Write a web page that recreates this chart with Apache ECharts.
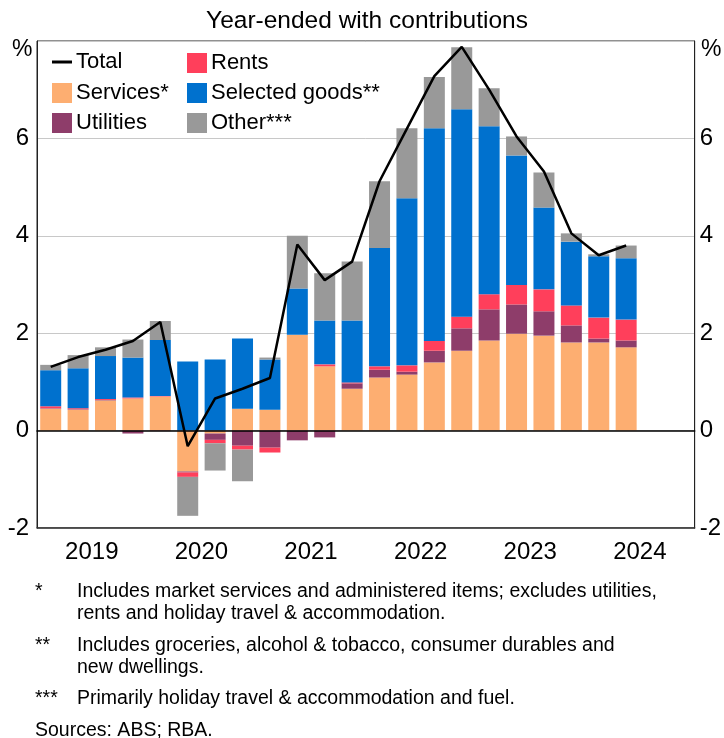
<!DOCTYPE html>
<html>
<head>
<meta charset="utf-8">
<script src="https://cdn.jsdelivr.net/npm/echarts@6/dist/echarts.min.js"></script>
<style>
  html, body { margin: 0; padding: 0; background: #fff; }
  #chart { width: 724px; height: 738px; }
</style>
</head>
<body>
<div id="chart"></div>
<script>
// quarters 2019 Q1 .. 2024 Q4 (last two empty)
const quarters = []
for (let y = 2019; y <= 2024; y++) {
  for (let q = 1; q <= 4; q++) quarters.push(y + ' Q' + q)
}
const years = ['2019', '2020', '2021', '2022', '2023', '2024']

// contributions, ppt
const services = [0.45, 0.43, 0.62, 0.66, 0.70, -0.84, -0.06, 0.45, 0.43, 1.97, 1.32, 0.86, 1.09, 1.15, 1.40, 1.64, 1.85, 1.99, 1.95, 1.81, 1.81, 1.71]
const utilities = [0.01, 0.01, 0.01, -0.06, -0.01, -0.02, -0.13, -0.31, -0.35, -0.20, -0.14, 0.11, 0.16, 0.06, 0.24, 0.46, 0.64, 0.60, 0.50, 0.35, 0.08, 0.14]
const rents = [0.04, 0.02, 0.02, 0.02, 0.01, -0.09, -0.07, -0.08, -0.10, 0.00, 0.04, 0.02, 0.07, 0.13, 0.20, 0.24, 0.31, 0.40, 0.45, 0.41, 0.43, 0.43]
const selectedGoods = [0.74, 0.82, 0.88, 0.82, 1.15, 1.42, 1.46, 1.44, 1.03, 0.95, 0.90, 1.27, 2.43, 3.43, 4.37, 4.26, 3.45, 2.66, 1.68, 1.31, 1.26, 1.26]
const other = [0.11, 0.27, 0.18, 0.37, 0.39, -0.80, -0.56, -0.65, 0.04, 1.08, 0.97, 1.21, 1.37, 1.44, 1.05, 1.27, 0.78, 0.39, 0.72, 0.17, 0.04, 0.26]
const total = [1.31, 1.51, 1.66, 1.84, 2.23, -0.32, 0.66, 0.86, 1.08, 3.82, 3.09, 3.47, 5.12, 6.20, 7.28, 7.88, 7.00, 6.04, 5.32, 4.05, 3.60, 3.80]

const yTicks = [-2, 0, 2, 4, 6, 8]

const FONT = '"Liberation Sans", Arial, sans-serif'
const colors = {
  services: '#FDAE71',
  utilities: '#8E3D6A',
  rents: '#FF3F5B',
  goods: '#0071CE',
  other: '#999999'
}

const chart = echarts.init(document.getElementById('chart'))

function barSeries(name, data, color) {
  return {
    name: name,
    type: 'bar',
    stack: 'a',
    barWidth: 21,
    data: data,
    itemStyle: { color: color },
    emphasis: { disabled: true }
  }
}

function legendAt(name, left, top, isLine) {
  return {
    data: [name],
    left: left,
    top: top,
    padding: 0,
    icon: 'rect',
    itemWidth: 20,
    itemHeight: isLine ? 3 : 20,
    selectedMode: false,
    textStyle: { fontSize: 22, fontFamily: FONT, color: '#000', padding: [0, 0, 0, -1] }
  }
}

function txt(text, x, y, size, align) {
  return {
    type: 'text',
    x: x,
    y: y,
    style: {
      text: text,
      font: size + 'px ' + FONT,
      fill: '#000',
      align: align || 'left',
      verticalAlign: 'middle'
    }
  }
}

const option = {
  animation: false,
  grid: {
    left: 37,
    right: 27,
    top: 41,
    bottom: 210,
    show: true,
    borderColor: '#222',
    borderWidth: 1,
    backgroundColor: 'transparent'
  },
  legend: [
    legendAt('Total', 52, 51, true),
    legendAt('Services*', 52, 82),
    legendAt('Utilities', 52, 112),
    legendAt('Rents', 187, 52),
    legendAt('Selected goods**', 187, 82),
    legendAt('Other***', 187, 112)
  ],
  xAxis: [
    {
      type: 'category',
      data: quarters,
      axisLine: { onZero: true, lineStyle: { color: '#000', width: 1.5 } },
      axisTick: { show: false },
      axisLabel: { show: false },
      z: 5
    },
    {
      type: 'category',
      data: years,
      position: 'bottom',
      axisLine: { onZero: false, lineStyle: { color: '#333', width: 1.5 } },
      axisTick: { inside: true, length: 8, lineStyle: { color: '#444', width: 1.5 } },
      axisLabel: { fontSize: 24, fontFamily: FONT, color: '#000', margin: 12 },
      splitLine: { show: false }
    }
  ],
  yAxis: [
    {
      type: 'value',
      min: -2,
      max: 8,
      interval: 2,
      position: 'left',
      axisLine: { show: true, lineStyle: { color: '#222' } },
      axisTick: { show: false },
      axisLabel: {
        fontSize: 24, fontFamily: FONT, color: '#000', margin: 8,
        formatter: v => (yTicks.indexOf(v) >= 0 && v !== 8 ? String(v) : '')
      },
      splitLine: { lineStyle: { color: '#c8c8c8', width: 1 } }
    },
    {
      type: 'value',
      min: -2,
      max: 8,
      interval: 2,
      position: 'right',
      axisLine: { show: true, lineStyle: { color: '#222' } },
      axisTick: { show: false },
      axisLabel: {
        fontSize: 24, fontFamily: FONT, color: '#000', margin: 5,
        formatter: v => (yTicks.indexOf(v) >= 0 && v !== 8 ? String(v) : '')
      },
      splitLine: { show: false }
    }
  ],
  series: [
    barSeries('Services*', services, colors.services),
    barSeries('Utilities', utilities, colors.utilities),
    barSeries('Rents', rents, colors.rents),
    barSeries('Selected goods**', selectedGoods, colors.goods),
    barSeries('Other***', other, colors.other),
    {
      name: 'Total',
      type: 'line',
      data: total,
      symbol: 'none',
      itemStyle: { color: '#000' },
      lineStyle: { color: '#000', width: 2.5 },
      z: 10
    }
  ],
  graphic: [
    txt('Year-ended with contributions', 367, 21, 24.5, 'center'),
    txt('%', 12, 50, 23),
    txt('%', 701, 50, 23),
    txt('*', 35, 592, 19.5),
    txt('Includes market services and administered items; excludes utilities,', 77, 592, 19.5),
    txt('rents and holiday travel & accommodation.', 77, 614, 19.5),
    txt('**', 35, 646, 19.5),
    txt('Includes groceries, alcohol & tobacco, consumer durables and', 77, 646, 19.5),
    txt('new dwellings.', 77, 668, 19.5),
    txt('***', 35, 699, 19.5),
    txt('Primarily holiday travel & accommodation and fuel.', 77, 699, 19.5),
    txt('Sources: ABS; RBA.', 35, 731, 19.5)
  ]
}

chart.setOption(option)
</script>
</body>
</html>
